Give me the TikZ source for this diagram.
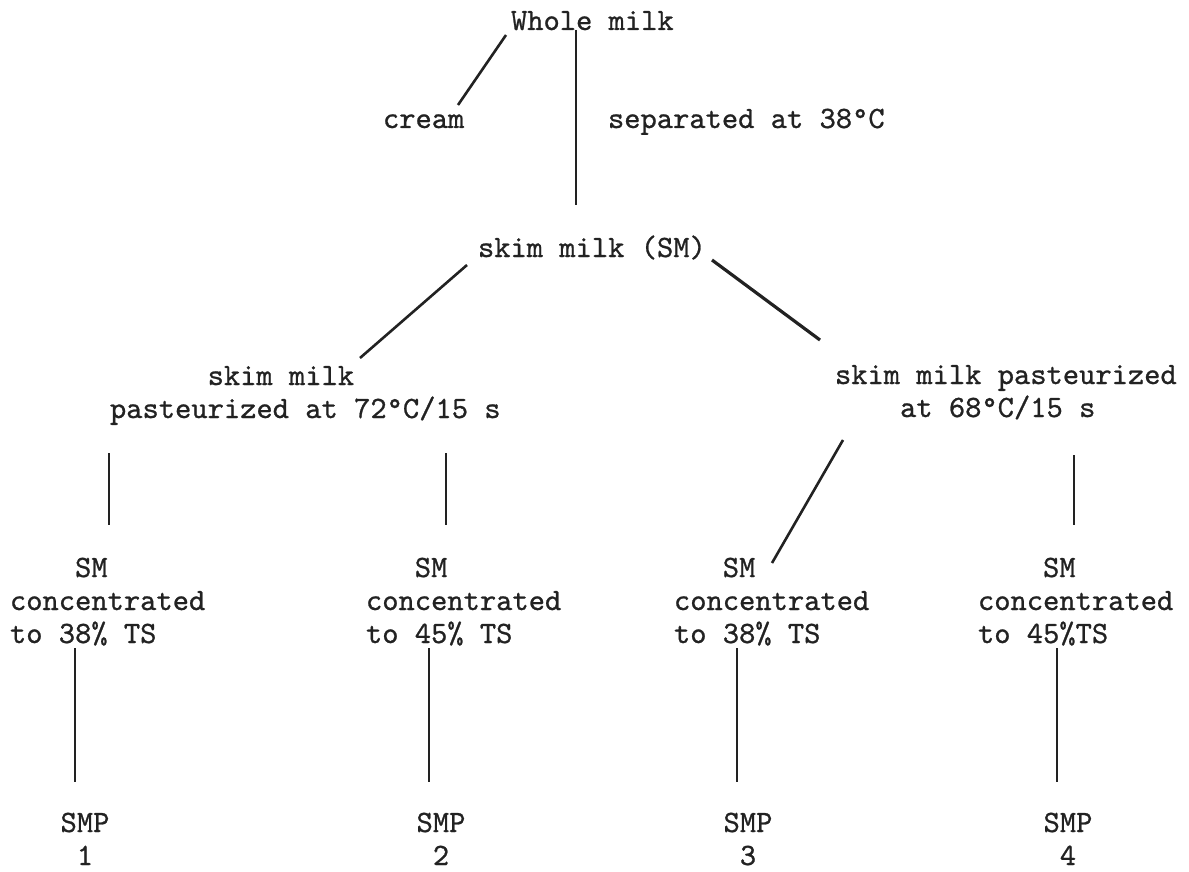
\documentclass[tikz,border=0pt]{standalone}
\usepackage{fontspec}
\newfontfamily\typewriter{lmmono10-regular}[Extension=.otf, FakeBold=0.8]
\definecolor{ink}{HTML}{222222}
\tikzset{
  lbl/.style={inner sep=0pt, outer sep=0pt, text=ink,
    font=\typewriter\fontsize{31}{33}\selectfont, align=left, anchor=base west},
  ctr/.style={lbl, align=center, anchor=base},
  link/.style={draw=ink, line width=1.8pt},
  heavy/.style={link, line width=2.6pt},
}
\begin{document}
\begin{tikzpicture}[x=1pt, y=-1pt]
  \useasboundingbox (0,0) rectangle (1189,872);

  % process stages (multi-line nodes are placed by the baseline of their last line)
  \node[lbl] (whole) at (511,30)  {Whole milk};
  \node[lbl] (cream) at (383,128) {cream};
  \node[lbl] (sep)   at (608,128) {separated at 38°C};
  \node[lbl] (skim)  at (478,257) {skim milk (SM)};
  \node[lbl] (pastL) at (110,418) {\phantom{xxxxxx}skim milk\\pasteurized at 72°C/15 s};
  \node[lbl] (pastR) at (835,417) {skim milk pasteurized\\\phantom{xxxx}at 68°C/15 s};

  \node[lbl] (sm1) at (10,643)  {\phantom{xxxx}SM\\concentrated\\to 38\% TS};
  \node[lbl] (sm2) at (366,643) {\phantom{xxx}SM\\concentrated\\to 45\% TS};
  \node[lbl] (sm3) at (674,643) {\phantom{xxx}SM\\concentrated\\to 38\% TS};
  \node[lbl] (sm4) at (978,643) {\phantom{xxxx}SM\\concentrated\\to 45\%TS};

  \node[ctr] (smp1) at (85,865)   {SMP\\1};
  \node[ctr] (smp2) at (441,865)  {SMP\\2};
  \node[ctr] (smp3) at (748,865)  {SMP\\3};
  \node[ctr] (smp4) at (1068,865) {SMP\\4};

  % separation
  \draw[heavy] ([shift={(-5,5)}]whole.base west) -- ([shift={(75,-23)}]cream.base west);
  \draw[link]  ([shift={(65,0)}]whole.base west) -- ([shift={(98,-52)}]skim.base west);

  % pasteurization
  \draw[heavy] ([shift={(-11,8)}]skim.base west) -- ([shift={(250,-60)}]pastL.base west);
  \draw[heavy, line width=3.2pt] ([shift={(234,3)}]skim.base west) -- ([shift={(-15,-77)}]pastR.base west);

  % concentration
  \draw[link]  ([shift={(-1,35)}]pastL.base west)  -- ([shift={(99,-118)}]sm1.base west);
  \draw[link]  ([shift={(336,35)}]pastL.base west) -- ([shift={(80,-118)}]sm2.base west);
  \draw[heavy] ([shift={(8,23)}]pastR.base west)   -- ([shift={(98,-80)}]sm3.base west);
  \draw[link]  ([shift={(239,38)}]pastR.base west) -- ([shift={(96,-118)}]sm4.base west);

  % drying
  \draw[link] ([shift={(65,5)}]sm1.base west) -- ([shift={(-10,-83)}]smp1.base);
  \draw[link] ([shift={(63,5)}]sm2.base west) -- ([shift={(-12,-83)}]smp2.base);
  \draw[link] ([shift={(63,5)}]sm3.base west) -- ([shift={(-11,-83)}]smp3.base);
  \draw[link] ([shift={(79,5)}]sm4.base west) -- ([shift={(-11,-83)}]smp4.base);
\end{tikzpicture}
\end{document}
